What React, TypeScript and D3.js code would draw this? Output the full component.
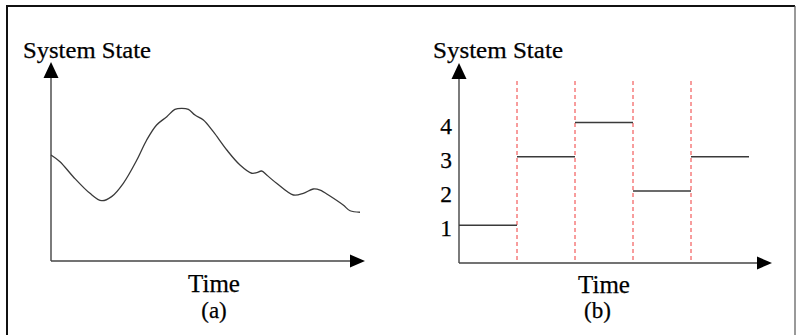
import React from 'react';
import * as d3 from 'd3';

// (a) continuous state over time
const timeA = [0, 3, 7.4, 13, 16.9, 20.2, 24.1, 28.6, 31.9, 35.2, 38.6, 41.3, 43.6, 45.8, 48, 50.8, 54.1, 58.6, 63, 66.9, 68.6, 70.2, 71.9, 75.2, 80.8, 84.1, 87.4, 89.7, 93, 97.4, 99.7, 103];
const stateA = [70.7, 66.2, 56.2, 45.1, 40.2, 42.9, 51.8, 67.3, 80.7, 90.7, 96.2, 101.1, 101.8, 101.1, 97.3, 94, 86.2, 74, 64, 58.5, 58.9, 60, 57.3, 51.8, 44, 45.1, 48, 47.3, 43.3, 37.3, 33.5, 32.5];

// (b) discrete state over time
const breaksB = [0, 1, 2, 3, 4, 5];
const levelsB = [1, 3, 4, 2, 3];
const ticksB = [1, 2, 3, 4];

const W = 796, H = 335;
const font = '"Liberation Serif", "Times New Roman", serif';
const axisColor = '#444';

const App = () => {
  const xA = d3.scaleLinear().domain([0, 100]).range([51, 351]);
  const yA = d3.scaleLinear().domain([0, 100]).range([261, 111]);
  const xB = d3.scaleLinear().domain([0, 5]).range([459, 749]);
  const yB = d3.scaleLinear().domain([0, 4]).range([259.5, 122.5]);

  const line = d3.line<number>()
    .x((d, i) => xA(timeA[i]))
    .y(d => yA(d))
    .curve(d3.curveCatmullRom.alpha(0.5));

  // arrowheads: tip position + direction
  const upArrow = (x: number, y: number) => `M${x},${y}L${x - 7.5},${y + 16}L${x + 7.5},${y + 16}Z`;
  const rightArrow = (x: number, y: number) => `M${x},${y}L${x - 15},${y - 6.5}L${x - 15},${y + 6.5}Z`;

  const axA0 = { x: xA(0), y: yA(0) };
  const axB0 = { x: xB(0), y: 263 };
  const txt = { fontFamily: font, fill: '#000', stroke: '#000', strokeWidth: 0.25 };

  return (
    <svg width={W} height={H} style={{ position: 'absolute', left: 0, top: 0, background: '#fff' }}>
      {/* frame */}
      <path d={`M7,${H}V6H795`} fill="none" stroke="#111" strokeWidth={2} />
      <line x1={795} y1={6} x2={795} y2={H} stroke="#555" strokeWidth={1.2} />

      {/* ---- chart (a) ---- */}
      <g>
        <line x1={axA0.x} y1={axA0.y} x2={axA0.x} y2={74} stroke={axisColor} strokeWidth={1.4} />
        <path d={upArrow(axA0.x, 62)} fill="#000" />
        <line x1={axA0.x} y1={axA0.y} x2={352} y2={axA0.y} stroke={axisColor} strokeWidth={1.4} />
        <path d={rightArrow(365, axA0.y)} fill="#000" />
        <path d={line(stateA) || ''} fill="none" stroke="#3a3a3a" strokeWidth={1.3} />
        <text x={23} y={58} fontSize={22.5} textLength={128} lengthAdjust="spacingAndGlyphs" {...txt}>System State</text>
        <text x={214} y={292} fontSize={25} textAnchor="middle" {...txt}>Time</text>
        <text x={214} y={318} fontSize={23} textAnchor="middle" {...txt}>(a)</text>
      </g>

      {/* ---- chart (b) ---- */}
      <g>
        {breaksB.slice(1, -1).map(b => (
          <line key={b} x1={xB(b)} y1={81} x2={xB(b)} y2={263} stroke="#f03a3a" strokeWidth={1} strokeDasharray="4,3" />
        ))}
        <line x1={axB0.x} y1={axB0.y} x2={axB0.x} y2={74} stroke={axisColor} strokeWidth={1.4} />
        <path d={upArrow(axB0.x, 63)} fill="#000" />
        <line x1={axB0.x} y1={axB0.y} x2={759} y2={axB0.y} stroke={axisColor} strokeWidth={1.4} />
        <path d={rightArrow(772, axB0.y)} fill="#000" />
        {levelsB.map((lv, i) => (
          <line key={i} x1={xB(breaksB[i])} y1={yB(lv)} x2={xB(breaksB[i + 1])} y2={yB(lv)} stroke="#3a3a3a" strokeWidth={1.3} />
        ))}
        {ticksB.map(t => (
          <text key={t} x={452} y={yB(t) + 11} fontSize={23.5} textAnchor="end" {...txt}>{t}</text>
        ))}
        <text x={433} y={58} fontSize={22.5} textLength={130} lengthAdjust="spacingAndGlyphs" {...txt}>System State</text>
        <text x={604} y={293} fontSize={25} textAnchor="middle" {...txt}>Time</text>
        <text x={597.5} y={318} fontSize={23} textAnchor="middle" {...txt}>(b)</text>
      </g>
    </svg>
  );
};

export default App;
